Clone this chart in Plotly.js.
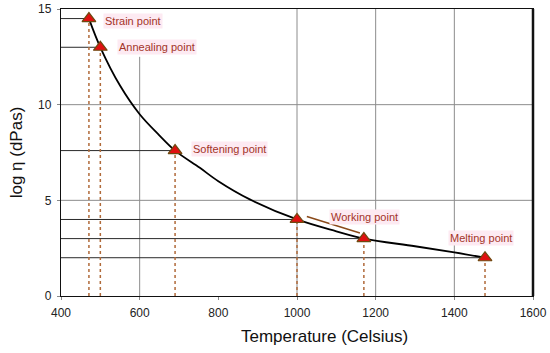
<!DOCTYPE html>
<html>
<head>
<meta charset="utf-8">
<script src="https://cdn.plot.ly/plotly-3.0.1.min.js"></script>
<style>html,body{margin:0;padding:0;background:#fff;}#chart{width:550px;height:353px;}</style>
</head>
<body>
<div id="chart"></div>
<script>
// Characteristic points
var pointNames = ["Strain point", "Annealing point", "Softening point", "Working point", "Working point (2)", "Melting point"];
var pointTemp = [471, 500, 690, 1000, 1170, 1478];
var pointLog = [14.5, 13.0, 7.6, 4.0, 3.0, 2.0];

// Viscosity curve
var curveTemp = [471, 500, 550, 600, 650, 690, 753, 800, 880, 1000, 1100, 1170, 1300, 1400, 1478];
var curveLog = [14.5, 13.0, 11.0, 9.5, 8.4, 7.6, 6.7, 6.0, 5.05, 4.0, 3.38, 3.0, 2.6, 2.28, 2.0];

// Leader line under "Working point" label
var leaderTemp = [1025, 1160];
var leaderLog = [4.16, 3.29];

// Labels shown on chart (index into points)
var labelText = ["Strain point", "Annealing point", "Softening point", "Working point", "Melting point"];
var labelIdx = [0, 1, 2, 3, 5];

var xTicks = [400, 600, 800, 1000, 1200, 1400, 1600];
var yTicks = [0, 5, 10, 15];
var xMin = 400, xMax = 1600, yMin = 0, yMax = 15;
var xTitle = "Temperature (Celsius)";
var yTitle = "log η (dPas)";

var FONT = "Liberation Sans, Arial, Helvetica, sans-serif";

var hx = [], hy = [];
var vx = [], vy = [];
for (var i = 0; i < pointTemp.length; i++) {
  hx.push(xMin, pointTemp[i], null); hy.push(pointLog[i], pointLog[i], null);
  vx.push(pointTemp[i], pointTemp[i], null); vy.push(yMin, pointLog[i], null);
}

var traces = [
  {x: hx, y: hy, mode: "lines", line: {color: "#2a2a2a", width: 1}, hoverinfo: "skip", showlegend: false},
  {x: vx, y: vy, mode: "lines", line: {color: "#b06a3a", width: 1.5, dash: "3px,3px"}, hoverinfo: "skip", showlegend: false},
  {x: curveTemp, y: curveLog, mode: "lines", line: {color: "#000", width: 1.8, shape: "spline", smoothing: 1}, showlegend: false},
  {x: leaderTemp, y: leaderLog, mode: "lines", line: {color: "#8a4a1a", width: 1.5}, showlegend: false},
  {x: pointTemp, y: pointLog, mode: "markers", text: pointNames,
   marker: {symbol: "triangle-up", size: 12, color: "#e01010", line: {color: "#6e4a10", width: 1.2}}, showlegend: false}
];

var shifts = [[14, -2], [17, 0], [16, 2], [32, 2], [-37, 20]];
var annotations = [];
for (var k = 0; k < labelText.length; k++) {
  var j = labelIdx[k];
  annotations.push({
    x: pointTemp[j], y: pointLog[j], xref: "x", yref: "y",
    text: labelText[k], showarrow: false, xanchor: "left", yanchor: "middle",
    xshift: shifts[k][0], yshift: shifts[k][1],
    font: {family: FONT, size: 11, color: "#a33428"},
    bgcolor: "#fdeaf2", borderpad: 1
  });
}
// x-axis title (offset right as in the reference)
annotations.push({
  x: 0.559, y: 0, xref: "paper", yref: "paper", xanchor: "center", yanchor: "middle",
  yshift: -40, showarrow: false, text: xTitle,
  font: {family: FONT, size: 17, color: "#111"}
});

var gridColor = "#8c8c8c";
var shapes = [];
[[600, 0, 12.5], [1000, 0, 15], [1200, 0, 15], [1400, 0, 15]].forEach(function (g) {
  shapes.push({type: "line", xref: "x", yref: "y", x0: g[0], x1: g[0], y0: g[1], y1: g[2], line: {color: gridColor, width: 1}, layer: "below"});
});
[5, 10].forEach(function (v) {
  shapes.push({type: "line", xref: "x", yref: "y", x0: xMin, x1: xMax, y0: v, y1: v, line: {color: gridColor, width: 1}, layer: "below"});
});
shapes.push({type: "line", xref: "paper", yref: "paper", x0: 1, x1: 1, y0: 0, y1: 1, line: {color: "#111", width: 2.5}});

var layout = {
  width: 550, height: 353,
  margin: {l: 61, r: 17, t: 9, b: 57},
  paper_bgcolor: "#fff", plot_bgcolor: "#fff",
  font: {family: FONT, size: 12, color: "#222"},
  xaxis: {
    range: [xMin, xMax], tickvals: xTicks, ticktext: xTicks.map(String),
    showgrid: false, zeroline: false, showline: true, mirror: true, linecolor: "#111", linewidth: 1.2,
    ticks: "outside", ticklen: 3, tickcolor: "#888", ticklabelstandoff: 2,
    tickfont: {family: FONT, size: 12, color: "#222"}
  },
  yaxis: {
    range: [yMin, yMax], tickvals: yTicks, ticktext: yTicks.map(String),
    showgrid: false, zeroline: false, showline: true, mirror: true, linecolor: "#111", linewidth: 1.2,
    ticks: "outside", ticklen: 3, tickcolor: "#888", ticklabelstandoff: 3,
    tickfont: {family: FONT, size: 12, color: "#222"},
    title: {text: yTitle, font: {family: FONT, size: 17, color: "#111"}, standoff: 11}
  },
  annotations: annotations,
  shapes: shapes
};

Plotly.newPlot("chart", traces, layout, {staticPlot: true, displayModeBar: false});
</script>
</body>
</html>
